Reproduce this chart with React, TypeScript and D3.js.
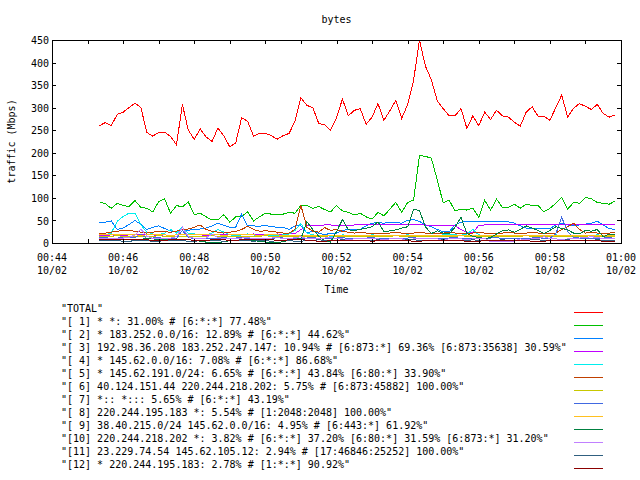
import React, { useEffect, useRef } from 'react';
import * as d3 from 'd3';

const title = 'bytes';
const yAxisLabel = 'traffic (Mbps)';
const xAxisLabel = 'Time';

// samples every 10 s, the first one at 00:45:20 (seconds counted from 00:44:00)
const startSeconds = 80;
const stepSeconds = 10;

const yTicks = [0, 50, 100, 150, 200, 250, 300, 350, 400, 450];
const xTickLabels = ['00:44', '00:46', '00:48', '00:50', '00:52', '00:54', '00:56', '00:58', '01:00'];
const dateLabel = '10/02';

const total = [
  260, 267, 260, 285, 290, 300, 310, 300, 245, 237, 245, 246, 236, 218, 307, 250, 230, 253, 235, 225,
  255, 237, 213, 222, 278, 270, 237, 243, 243, 238, 230, 238, 243, 270, 322, 305, 300, 265, 262, 250,
  278, 319, 282, 294, 298, 263, 279, 309, 272, 293, 316, 276, 307, 360, 450, 392, 362, 315, 298, 282,
  282, 298, 254, 282, 260, 290, 274, 294, 282, 279, 268, 259, 290, 302, 281, 281, 272, 300, 328, 279,
  299, 309, 303, 296, 307, 287, 279, 284
];
const s1 = [
  91, 87, 77, 88, 83, 81, 94, 79, 77, 69, 92, 98, 66, 83, 80, 91, 63, 66, 58, 51,
  51, 63, 46, 58, 59, 69, 49, 58, 66, 64, 62, 64, 68, 66, 84, 83, 77, 81, 74, 69,
  83, 71, 68, 62, 66, 58, 53, 68, 60, 75, 90, 68, 90, 95, 194, 192, 188, 140, 89, 95,
  71, 75, 73, 77, 57, 95, 73, 97, 79, 79, 86, 77, 86, 83, 83, 69, 77, 88, 101, 75,
  90, 88, 101, 98, 90, 88, 86, 93
];
const s2 = [
  46, 46, 49, 30, 33, 41, 50, 41, 30, 35, 38, 32, 27, 24, 30, 28, 31, 31, 33, 38,
  44, 39, 35, 35, 64, 38, 38, 37, 39, 36, 35, 35, 30, 38, 38, 22, 26, 22, 18, 22,
  22, 28, 30, 30, 30, 38, 44, 45, 44, 46, 45, 44, 50, 52, 48, 40, 36, 30, 25, 25,
  40, 46, 48, 47, 48, 47, 47, 48, 48, 47, 44, 38, 33, 32, 32, 33, 32, 40, 44, 40,
  38, 40, 42, 44, 48, 40, 32, 30
];
const s3 = [
  17, 17, 18, 17, 16, 18, 19, 20, 18, 18, 17, 18, 17, 18, 19, 20, 19, 18, 17, 18,
  19, 18, 18, 19, 18, 19, 20, 19, 18, 19, 20, 19, 20, 21, 30, 38, 39, 39, 40, 40,
  39, 39, 39, 40, 40, 40, 40, 40, 40, 40, 40, 40, 40, 40, 40, 40, 39, 39, 39, 39,
  38, 30, 24, 23, 39, 40, 40, 40, 40, 40, 40, 40, 40, 40, 40, 40, 40, 40, 40, 40,
  40, 40, 41, 41, 41, 41, 41, 41
];
const s4 = [
  18, 18, 22, 48, 59, 66, 66, 40, 24, 20, 18, 22, 30, 22, 35, 22, 20, 18, 18, 22,
  30, 24, 18, 16, 18, 20, 18, 16, 18, 17, 16, 18, 20, 28, 43, 22, 18, 16, 17, 15,
  16, 18, 17, 16, 15, 16, 18, 17, 16, 15, 16, 17, 18, 17, 16, 15, 16, 17, 18, 20,
  18, 17, 20, 30, 18, 16, 15, 16, 17, 16, 15, 16, 17, 16, 15, 16, 17, 18, 17, 16,
  15, 16, 17, 16, 18, 17, 16, 17
];
const s5 = [
  22, 22, 24, 26, 28, 28, 26, 24, 22, 24, 26, 25, 24, 26, 30, 31, 35, 40, 30, 26,
  24, 22, 24, 26, 30, 37, 30, 26, 27, 26, 24, 22, 22, 30, 83, 35, 26, 24, 34, 28,
  30, 26, 24, 22, 24, 22, 21, 22, 20, 22, 24, 22, 21, 22, 24, 22, 20, 21, 22, 24,
  22, 20, 21, 22, 24, 22, 20, 21, 22, 24, 22, 21, 22, 24, 22, 20, 21, 22, 30, 36,
  44, 30, 22, 24, 22, 21, 22, 24
];
const s6 = [
  15, 15, 15, 16, 15, 15, 14, 15, 15, 15, 16, 15, 15, 15, 14, 15, 15, 15, 15, 16,
  15, 15, 15, 15, 14, 15, 15, 15, 16, 15, 15, 15, 15, 15, 14, 15, 15, 15, 15, 16,
  15, 15, 15, 15, 14, 15, 15, 15, 15, 15, 16, 15, 15, 15, 15, 14, 15, 15, 15, 15,
  15, 16, 15, 15, 15, 15, 14, 15, 15, 15, 15, 15, 16, 15, 15, 15, 15, 14, 15, 15,
  15, 15, 15, 16, 15, 15, 15, 15
];
const s7 = [
  12, 12, 10, 11, 12, 13, 12, 20, 10, 11, 12, 10, 9, 10, 28, 12, 10, 11, 10, 9,
  10, 12, 10, 11, 12, 10, 9, 10, 11, 10, 12, 11, 10, 9, 10, 11, 12, 10, 9, 10,
  11, 12, 10, 9, 10, 11, 12, 10, 11, 10, 9, 10, 11, 12, 10, 11, 10, 9, 10, 11,
  12, 10, 11, 10, 9, 10, 11, 12, 10, 11, 10, 9, 10, 11, 12, 10, 11, 20, 57, 25,
  12, 11, 10, 9, 10, 11, 12, 10
];
const s8 = [
  18, 18, 18, 19, 18, 18, 18, 17, 18, 18, 18, 18, 17, 18, 18, 18, 18, 19, 18, 18,
  18, 17, 18, 18, 18, 18, 18, 17, 18, 18, 18, 17, 17, 17, 17, 17, 17, 16, 17, 17,
  16, 16, 16, 17, 16, 16, 16, 16, 17, 16, 16, 16, 16, 16, 17, 16, 16, 16, 16, 16,
  16, 17, 16, 16, 16, 16, 16, 16, 17, 16, 16, 16, 16, 16, 17, 16, 16, 16, 16, 16,
  16, 17, 16, 16, 16, 16, 16, 16
];
const s9 = [
  8, 8, 9, 10, 9, 8, 7, 8, 10, 9, 8, 7, 8, 9, 8, 7, 6, 4, 2, 0,
  1, 3, 5, 6, 7, 6, 5, 4, 2, 0, 1, 3, 6, 8, 10, 47, 30, 15, 5, 2,
  25, 52, 29, 28, 30, 33, 36, 47, 25, 27, 29, 33, 36, 75, 72, 36, 21, 27, 22, 20,
  35, 57, 21, 15, 12, 10, 12, 20, 27, 29, 24, 30, 38, 33, 28, 21, 28, 36, 32, 29,
  22, 20, 28, 26, 30, 14, 20, 18
];
const s10 = [
  9, 9, 10, 10, 11, 12, 18, 31, 15, 10, 9, 10, 11, 14, 35, 14, 10, 9, 11, 20,
  12, 10, 9, 10, 11, 12, 10, 9, 10, 11, 12, 10, 9, 12, 14, 10, 9, 10, 11, 12,
  10, 9, 8, 9, 10, 11, 10, 9, 8, 9, 10, 9, 8, 9, 10, 11, 10, 9, 8, 9,
  10, 9, 8, 9, 10, 11, 3, 3, 4, 3, 4, 9, 8, 9, 10, 14, 10, 9, 8, 9,
  10, 11, 12, 14, 12, 10, 9, 10
];
const s11 = [
  5, 5, 6, 5, 4, 4, 5, 6, 5, 4, 4, 5, 6, 6, 5, 4, 4, 5, 5, 6,
  5, 4, 5, 6, 6, 5, 4, 5, 5, 4, 5, 6, 5, 4, 4, 5, 6, 7, 6, 5,
  6, 7, 6, 5, 5, 6, 6, 7, 6, 5, 5, 6, 7, 7, 6, 5, 6, 6, 7, 6,
  5, 6, 6, 7, 6, 5, 5, 6, 7, 6, 6, 5, 6, 7, 7, 6, 5, 6, 6, 7,
  6, 5, 6, 6, 7, 6, 5, 6
];
const s12 = [
  8, 8, 8, 8, 7, 7, 8, 8, 7, 6, 6, 6, 7, 8, 8, 7, 6, 6, 6, 7,
  7, 7, 6, 6, 7, 7, 8, 8, 7, 7, 6, 6, 7, 7, 8, 6, 5, 4, 4, 5,
  5, 5, 6, 6, 5, 5, 4, 5, 5, 6, 6, 5, 5, 4, 4, 5, 5, 6, 6, 6,
  5, 5, 4, 4, 4, 5, 5, 5, 6, 6, 6, 5, 5, 4, 4, 4, 5, 5, 5, 6,
  6, 6, 5, 5, 5, 4, 4, 4
];

const seriesNames = [
  'TOTAL',
  '[ 1] * *: 31.00% # [6:*:*] 77.48%',
  '[ 2] * 183.252.0.0/16: 12.89% # [6:*:*] 44.62%',
  '[ 3] 192.98.36.208 183.252.247.147: 10.94% # [6:873:*] 69.36% [6:873:35638] 30.59%',
  '[ 4] * 145.62.0.0/16: 7.08% # [6:*:*] 86.68%',
  '[ 5] * 145.62.191.0/24: 6.65% # [6:*:*] 43.84% [6:80:*] 33.90%',
  '[ 6] 40.124.151.44 220.244.218.202: 5.75% # [6:873:45882] 100.00%',
  '[ 7] *:: *::: 5.65% # [6:*:*] 43.19%',
  '[ 8] 220.244.195.183 *: 5.54% # [1:2048:2048] 100.00%',
  '[ 9] 38.40.215.0/24 145.62.0.0/16: 4.95% # [6:443:*] 61.92%',
  '[10] 220.244.218.202 *: 3.82% # [6:*:*] 37.20% [6:80:*] 31.59% [6:873:*] 31.20%',
  '[11] 23.229.74.54 145.62.105.12: 2.94% # [17:46846:25252] 100.00%',
  '[12] * 220.244.195.183: 2.78% # [1:*:*] 90.92%'
];
const seriesColors = [
  '#ff0000', '#00c000', '#0080ff', '#c000ff', '#00eeee', '#c04000', '#c8c800',
  '#4169e1', '#ffc020', '#008040', '#c080ff', '#306080', '#8b0000'
];
const seriesValues = [total, s1, s2, s3, s4, s5, s6, s7, s8, s9, s10, s11, s12];

const width = 640;
const height = 480;
const font = '"DejaVu Sans Mono", monospace';

const App: React.FC = () => {
  const svgRef = useRef<SVGSVGElement>(null);

  useEffect(() => {
    if (!svgRef.current) return;
    const svg = d3.select(svgRef.current);
    svg.selectAll('*').remove();

    const plot = { left: 52, right: 621, top: 40, bottom: 243 };

    const x = d3.scaleLinear().domain([0, 960]).range([plot.left, plot.right]);
    const y = d3.scaleLinear().domain([0, 450]).range([plot.bottom, plot.top]);

    svg.append('rect').attr('width', width).attr('height', height).attr('fill', '#fff');

    // data lines, TOTAL first so later series sit on top
    const line = d3.line<number>()
      .x((_, i) => x(startSeconds + i * stepSeconds))
      .y(d => y(d));

    seriesValues.forEach((values, i) => {
      svg.append('path')
        .datum(values)
        .attr('d', line)
        .attr('fill', 'none')
        .attr('stroke', seriesColors[i])
        .attr('stroke-width', 1)
        .attr('shape-rendering', 'crispEdges');
    });

    // border
    svg.append('rect')
      .attr('x', plot.left + 0.5)
      .attr('y', plot.top + 0.5)
      .attr('width', plot.right - plot.left)
      .attr('height', plot.bottom - plot.top)
      .attr('fill', 'none')
      .attr('stroke', '#000')
      .attr('shape-rendering', 'crispEdges');

    // ticks (inward, mirrored)
    const minuteTicks = d3.range(0, 961, 60);
    const styleAxis = (g: d3.Selection<SVGGElement, unknown, null, undefined>) => {
      g.select('.domain').remove();
      g.attr('font-family', font).attr('font-size', 10);
      g.selectAll('line').attr('shape-rendering', 'crispEdges');
    };

    svg.append('g')
      .attr('transform', `translate(${plot.left},0)`)
      .call(d3.axisLeft(y).tickValues(yTicks).tickSize(-4).tickPadding(3))
      .call(styleAxis)
      .selectAll('text')
      .attr('dy', '0.36em');

    svg.append('g')
      .attr('transform', `translate(${plot.right},0)`)
      .call(d3.axisRight(y).tickValues(yTicks).tickSize(-4).tickFormat(() => ''))
      .call(styleAxis);

    svg.append('g')
      .attr('transform', `translate(0,${plot.bottom})`)
      .call(d3.axisBottom(x).tickValues(minuteTicks).tickSize(-4).tickFormat(() => ''))
      .call(styleAxis);

    svg.append('g')
      .attr('transform', `translate(0,${plot.top})`)
      .call(d3.axisTop(x).tickValues(minuteTicks).tickSize(-4).tickFormat(() => ''))
      .call(styleAxis);

    // x labels: time + date every 2 minutes
    const labels = svg.append('g')
      .attr('font-family', font)
      .attr('font-size', 10)
      .attr('text-anchor', 'middle');
    xTickLabels.forEach((lab, i) => {
      const t = i * 120;
      labels.append('text').attr('x', x(t)).attr('y', 260.6).text(lab);
      labels.append('text').attr('x', x(t)).attr('y', 274).text(dateLabel);
    });

    // titles
    svg.append('text')
      .attr('x', (plot.left + plot.right) / 2)
      .attr('y', 22.5)
      .attr('text-anchor', 'middle')
      .attr('font-family', font)
      .attr('font-size', 10)
      .text(title);

    svg.append('text')
      .attr('x', (plot.left + plot.right) / 2)
      .attr('y', 293)
      .attr('text-anchor', 'middle')
      .attr('font-family', font)
      .attr('font-size', 10)
      .text(xAxisLabel);

    svg.append('text')
      .attr('transform', `translate(14.5,${(plot.top + plot.bottom) / 2}) rotate(-90)`)
      .attr('text-anchor', 'middle')
      .attr('font-family', font)
      .attr('font-size', 10)
      .text(yAxisLabel);

    // legend
    const legend = svg.append('g')
      .attr('font-family', font)
      .attr('font-size', 10);
    seriesNames.forEach((name, i) => {
      const ly = 312 + 13 * i;
      legend.append('text')
        .attr('x', 61)
        .attr('y', ly)
        .style('white-space', 'pre')
        .text(`"${name}"`);
      legend.append('line')
        .attr('x1', 574)
        .attr('x2', 603)
        .attr('y1', ly + 0.5)
        .attr('y2', ly + 0.5)
        .attr('stroke', seriesColors[i])
        .attr('shape-rendering', 'crispEdges');
    });
  }, []);

  return (
    <svg
      ref={svgRef}
      width={width}
      height={height}
      style={{ position: 'absolute', left: 0, top: 0, display: 'block' }}
    />
  );
};

export default App;
